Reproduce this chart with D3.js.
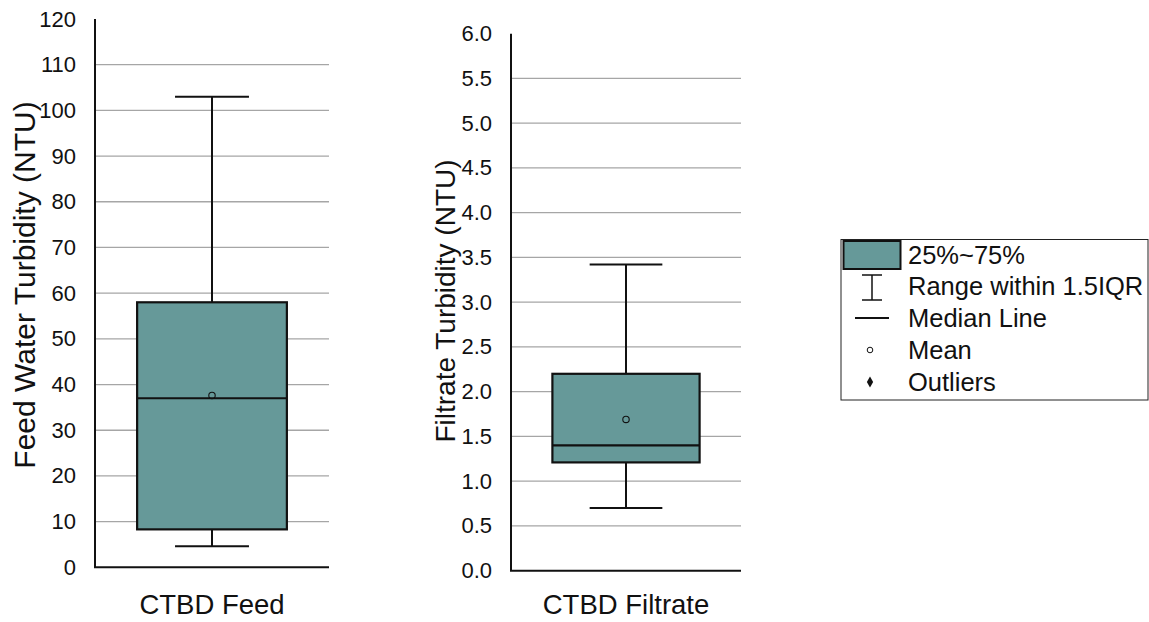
<!DOCTYPE html>
<html>
<head>
<meta charset="utf-8">
<script src="https://cdn.jsdelivr.net/npm/d3@7"></script>
<style>
  body { margin: 0; background: #fff; }
  svg { display: block; font-family: "Liberation Sans", Arial, sans-serif; }
</style>
</head>
<body>
<svg id="chart" width="1149" height="622"></svg>
<script>
// box statistics, one entry per panel
const categories = ["CTBD Feed", "CTBD Filtrate"];
const axisTitles = ["Feed Water Turbidity (NTU)", "Filtrate Turbidity (NTU)"];
const whiskerLow = [4.6, 0.70];
const q1 = [8.3, 1.21];
const median = [37, 1.40];
const q3 = [58, 2.2];
const whiskerHigh = [103, 3.42];
const means = [37.6, 1.69];
const feedTicks = [0, 10, 20, 30, 40, 50, 60, 70, 80, 90, 100, 110, 120];
const filtrateTicks = [0, 0.5, 1.0, 1.5, 2.0, 2.5, 3.0, 3.5, 4.0, 4.5, 5.0, 5.5, 6.0];
const legendLabels = ["25%~75%", "Range within 1.5IQR", "Median Line", "Mean", "Outliers"];

const boxColor = "#669999";
const gridColor = "#a6a6a6";

const svg = d3.select("#chart");

const panels = [
    { x0: 95, x1: 329, top: 19, bottom: 567.3, ticks: feedTicks, fmt: d3.format("d"),
      titleX: 35, titleY: 285, titleSize: 30 },
    { x0: 511, x1: 741, top: 33.7, bottom: 570.7, ticks: filtrateTicks, fmt: d3.format(".1f"),
      titleX: 455, titleY: 301, titleSize: 28 }
];

panels.forEach((p, i) => {
    const g = svg.append("g");

    const y = d3.scaleLinear()
        .domain([0, p.ticks[p.ticks.length - 1]])
        .range([p.bottom, p.top]);

    const x = d3.scaleBand()
        .domain([categories[i]])
        .range([p.x0, p.x1])
        .padding(0);

    const bw = x.bandwidth();
    const cx = x(categories[i]) + bw / 2;
    const boxW = bw * 0.64;
    const capW = bw * 0.316;

    // gridlines (skip the zero and the top tick)
    g.append("g")
        .selectAll("line")
        .data(p.ticks.slice(1, -1))
        .enter()
        .append("line")
        .attr("x1", p.x0)
        .attr("x2", p.x1)
        .attr("y1", d => y(d))
        .attr("y2", d => y(d))
        .attr("stroke", gridColor)
        .attr("stroke-width", 1.3);

    // tick labels
    const axis = g.append("g")
        .attr("transform", `translate(${p.x0},0)`)
        .call(d3.axisLeft(y).tickValues(p.ticks).tickFormat(p.fmt).tickSize(0).tickPadding(19));
    axis.select(".domain").remove();
    axis.selectAll("text")
        .attr("font-size", 22)
        .attr("fill", "#111")
        .attr("font-family", "Liberation Sans, Arial, sans-serif");

    // whiskers
    g.append("line")
        .attr("x1", cx).attr("x2", cx)
        .attr("y1", y(whiskerHigh[i])).attr("y2", y(q3[i]))
        .attr("stroke", "#111").attr("stroke-width", 2);
    g.append("line")
        .attr("x1", cx).attr("x2", cx)
        .attr("y1", y(whiskerLow[i])).attr("y2", y(q1[i]))
        .attr("stroke", "#111").attr("stroke-width", 2);
    [whiskerHigh[i], whiskerLow[i]].forEach(v => {
        g.append("line")
            .attr("x1", cx - capW / 2).attr("x2", cx + capW / 2)
            .attr("y1", y(v)).attr("y2", y(v))
            .attr("stroke", "#111").attr("stroke-width", 2);
    });

    // box
    g.append("rect")
        .attr("x", cx - boxW / 2)
        .attr("y", y(q3[i]))
        .attr("width", boxW)
        .attr("height", y(q1[i]) - y(q3[i]))
        .attr("fill", boxColor)
        .attr("stroke", "#111")
        .attr("stroke-width", 2.2);

    // median
    g.append("line")
        .attr("x1", cx - boxW / 2).attr("x2", cx + boxW / 2)
        .attr("y1", y(median[i])).attr("y2", y(median[i]))
        .attr("stroke", "#111").attr("stroke-width", 2.2);

    // mean
    g.append("circle")
        .attr("cx", cx)
        .attr("cy", y(means[i]))
        .attr("r", 3.2)
        .attr("fill", "none")
        .attr("stroke", "#111")
        .attr("stroke-width", 1.1);

    // axes lines
    g.append("line")
        .attr("x1", p.x0).attr("x2", p.x0)
        .attr("y1", p.top).attr("y2", p.bottom)
        .attr("stroke", "#111").attr("stroke-width", 2);
    g.append("line")
        .attr("x1", p.x0 - 1).attr("x2", p.x1)
        .attr("y1", p.bottom).attr("y2", p.bottom)
        .attr("stroke", "#111").attr("stroke-width", 2);

    // category label
    g.append("text")
        .attr("x", cx)
        .attr("y", 614)
        .attr("text-anchor", "middle")
        .attr("font-size", 27.5)
        .attr("fill", "#111")
        .text(categories[i]);

    // y title
    g.append("text")
        .attr("transform", `translate(${p.titleX},${p.titleY}) rotate(-90)`)
        .attr("text-anchor", "middle")
        .attr("font-size", p.titleSize)
        .attr("fill", "#111")
        .text(axisTitles[i]);
});

// legend
const lg = svg.append("g");
lg.append("rect")
    .attr("x", 841).attr("y", 239.5)
    .attr("width", 307).attr("height", 160.5)
    .attr("fill", "#fff")
    .attr("stroke", "#222")
    .attr("stroke-width", 1);

const rowY = [255, 286, 318, 350, 382];
const symX = 872;

lg.append("rect")
    .attr("x", 843.5).attr("y", 241)
    .attr("width", 57).attr("height", 28)
    .attr("fill", boxColor)
    .attr("stroke", "#111")
    .attr("stroke-width", 2);

// whisker symbol
lg.append("line").attr("x1", symX).attr("x2", symX).attr("y1", 275).attr("y2", 300)
    .attr("stroke", "#111").attr("stroke-width", 1.5);
[275, 300].forEach(v => {
    lg.append("line").attr("x1", symX - 10).attr("x2", symX + 10).attr("y1", v).attr("y2", v)
        .attr("stroke", "#111").attr("stroke-width", 1.5);
});
// median symbol
lg.append("line").attr("x1", 855).attr("x2", 889).attr("y1", rowY[2]).attr("y2", rowY[2])
    .attr("stroke", "#111").attr("stroke-width", 2);
// mean symbol
lg.append("circle").attr("cx", 870).attr("cy", rowY[3]).attr("r", 2.8)
    .attr("fill", "none").attr("stroke", "#111").attr("stroke-width", 1);
// outlier symbol
lg.append("path")
    .attr("d", d3.symbol().type(d3.symbolDiamond).size(34))
    .attr("transform", `translate(870,${rowY[4]})`)
    .attr("fill", "#111");

lg.selectAll("text.lab")
    .data(legendLabels)
    .enter()
    .append("text")
    .attr("class", "lab")
    .attr("x", 908)
    .attr("y", (d, i) => rowY[i])
    .attr("dy", "0.36em")
    .attr("font-size", 25.5)
    .attr("fill", "#111")
    .text(d => d);
</script>
</body>
</html>
